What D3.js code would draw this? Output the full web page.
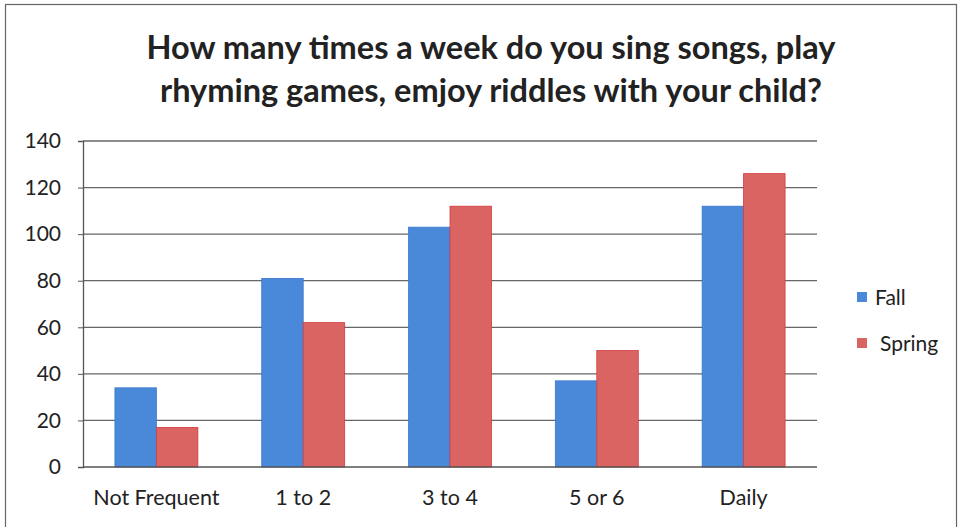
<!DOCTYPE html>
<html><head><meta charset="utf-8">
<script src="https://cdn.jsdelivr.net/npm/d3@7"></script>
<style>body{margin:0;background:#fff}svg{display:block}</style>
</head><body>
<svg id="c" width="959" height="527"></svg>
<script>
const categories = ["Not Frequent", "1 to 2", "3 to 4", "5 or 6", "Daily"];
const seriesNames = ["Fall", "Spring"];
const fallValues = [34, 81, 103, 37, 112];
const springValues = [17, 62, 112, 50, 126];
const yTicks = [0, 20, 40, 60, 80, 100, 120, 140];
const titleLines = ["How many times a week do you sing songs, play", "rhyming games, emjoy riddles with your child?"];
const colors = {Fall: "#4a88d9", Spring: "#da6462"};
const strokes = {Fall: "#3a78cc", Spring: "#d43a3e"};

const svg = d3.select("#c");
const font = "Lato, 'Open Sans', sans-serif";
svg.append("rect").attr("x", 5.5).attr("y", 4.5).attr("width", 951).attr("height", 530)
  .attr("fill", "#fff").attr("stroke", "#666").attr("stroke-width", 1.2);

const m = {l: 83, r: 817, t: 141, b: 467};
const x = d3.scaleBand().domain(categories).range([m.l, m.r]).paddingInner(0.435).paddingOuter(0.2175);
const xs = d3.scaleBand().domain(seriesNames).range([0, x.bandwidth()]);
const y = d3.scaleLinear().domain([0, 140]).range([m.b, m.t]);

const title = svg.append("text").attr("text-anchor", "middle").attr("font-family", font)
  .attr("font-weight", "bold").attr("font-size", 32.5).attr("fill", "#222");
titleLines.forEach((t, i) => title.append("tspan").attr("x", 491).attr("y", 59 + i * 43).text(t));

// gridlines
svg.append("g").selectAll("line").data(yTicks.slice(1)).join("line")
  .attr("x1", m.l).attr("x2", m.r).attr("y1", d => y(d)).attr("y2", d => y(d))
  .attr("stroke", "#666").attr("stroke-width", 1.3);

const ya = svg.append("g").attr("transform", `translate(${m.l},0)`)
  .call(d3.axisLeft(y).tickValues(yTicks).tickSize(5).tickPadding(17));
ya.select(".domain").attr("stroke", "#555").attr("stroke-width", 1.3);
ya.selectAll(".tick line").attr("stroke", "#555");
ya.selectAll("text").attr("font-family", font).attr("font-size", 21).attr("fill", "#222");

const data = categories.map((c, i) => ({c, vals: [{s: "Fall", v: fallValues[i]}, {s: "Spring", v: springValues[i]}]}));
const g = svg.append("g").selectAll("g").data(data).join("g").attr("transform", d => `translate(${x(d.c)},0)`);
g.selectAll("rect").data(d => d.vals).join("rect")
  .attr("x", d => xs(d.s)).attr("width", xs.bandwidth())
  .attr("y", d => y(d.v)).attr("height", d => y(0) - y(d.v))
  .attr("fill", d => colors[d.s]).attr("stroke", d => strokes[d.s]).attr("stroke-width", 0.8);

const xa = svg.append("g").attr("transform", `translate(0,${m.b})`)
  .call(d3.axisBottom(x).tickSize(0).tickPadding(23));
xa.select(".domain").attr("stroke", "#555").attr("stroke-width", 1.3).attr("d", `M${m.l},0H${m.r}`);
xa.selectAll("text").attr("font-family", font).attr("font-size", 21.5).attr("fill", "#222");

// legend
const leg = svg.append("g");
seriesNames.forEach((s, i) => {
  const ly = 297 + i * 46;
  leg.append("rect").attr("x", 857).attr("y", ly - 5).attr("width", 10).attr("height", 10).attr("fill", colors[s]);
  leg.append("text").attr("x", 875 + i * 5).attr("y", ly + 8).attr("font-family", font).attr("font-size", 21)
    .attr("fill", "#222").text(s);
});
</script>
</body></html>
